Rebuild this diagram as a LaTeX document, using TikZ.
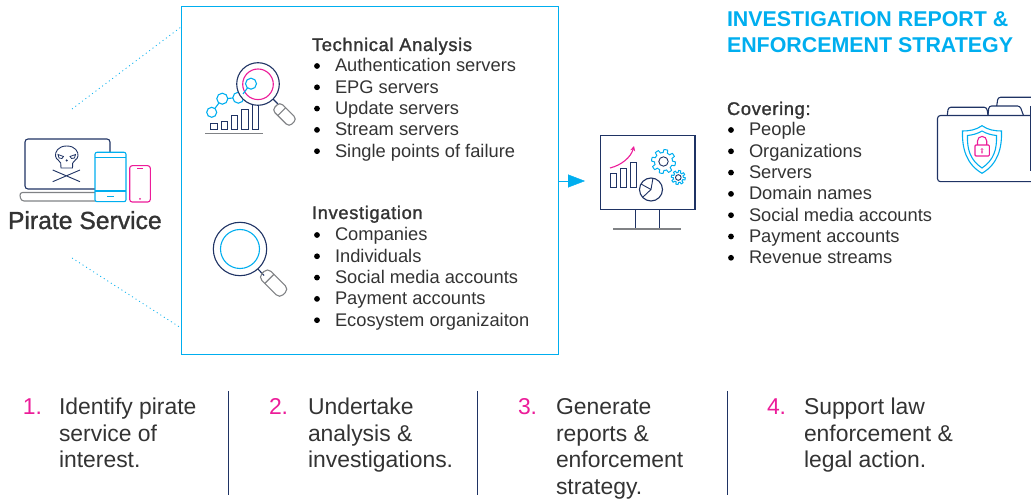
\documentclass[tikz,border=0pt]{standalone}
\usepackage{fontspec}
\setmainfont{Liberation Sans}
\newfontfamily\medfont[FakeBold=1.4,LetterSpace=3.6]{Liberation Sans}
\newfontfamily\piratefont[FakeBold=1.2]{Liberation Sans}
\usetikzlibrary{arrows.meta}
\definecolor{brandblue}{HTML}{00AEEF}
\definecolor{brandnavy}{HTML}{1F3364}
\definecolor{brandpink}{HTML}{EC1C99}
\definecolor{brandgrey}{HTML}{808285}
\definecolor{inktext}{HTML}{333333}
\tikzset{
    plain/.style={inner sep=0pt,outer sep=0pt,anchor=base west,text=inktext},
    item/.style={plain,font=\fontsize{18.3}{22}\selectfont},
    head/.style={plain,font=\medfont\fontsize{18.3}{22}\selectfont},
    title/.style={plain,text=brandblue,font=\bfseries\fontsize{21.4}{26}\selectfont},
    stepnum/.style={plain,text=brandpink,font=\fontsize{22.9}{26.5}\selectfont},
    steptext/.style={plain,font=\fontsize{22.9}{26.5}\selectfont},
    navy/.style={draw=brandnavy,line width=1.1pt},
    cyanline/.style={draw=brandblue,line width=1.1pt},
    pinkline/.style={draw=brandpink,line width=1.1pt},
    greyline/.style={draw=brandgrey,line width=1.1pt},
    dotline/.style={draw=brandblue,line width=0.8pt,dash pattern=on 1pt off 3.2pt},
}
% one bullet list: name, text x, first baseline, items
\newcommand{\bulletlist}[4]{
    \foreach \txt [count=\i from 0] in {#4} {
        \pgfmathsetmacro{\ypos}{#3+21.3*\i}
        \node[item] (#1\i) at (#2,\ypos) {\txt};
        \fill[black] (#2-18,\ypos-6) circle (2.9);
    }
}
% one numbered step: name, number x, text x, number, lines
\newcommand{\steplist}[5]{
    \node[stepnum] (#1num) at (#2,414.5) {#4.};
    \foreach \txt [count=\i from 0] in {#5} {
        \pgfmathsetmacro{\ypos}{414.5+26.6*\i}
        \node[steptext] (#1\i) at (#3,\ypos) {\txt};
    }
}
\begin{document}
\begin{tikzpicture}[x=1pt,y=-1pt]
    \useasboundingbox (0,0) rectangle (1031,502);

    % laptop with skull
    \draw[navy,rounded corners=3pt] (25,189) -- (25,139) -- (110,139) -- (110,189) -- cycle;
    \draw[greyline,rounded corners=3pt] (95,192.5) -- (19.5,192.5) -- (21,201) -- (95,201);
    \draw[navy,line width=0.9pt] (66.7,146) .. controls (58,146) and (55,152) .. (55.5,156) .. controls (56,160) and (60,160) .. (60.7,163) -- (61,168) -- (72.5,168) -- (72.7,163) .. controls (73.5,160) and (77.5,160) .. (78,156) .. controls (78.5,152) and (75.5,146) .. (66.7,146) -- cycle;
    \draw[navy,line width=0.8pt] (58,154.5) -- (63.5,156.5) -- (62,158.5) -- (59,158) -- cycle (75.5,154.5) -- (70,156.5) -- (71.5,158.5) -- (74.5,158) -- cycle;
    \fill[brandnavy] (66.7,160.5) circle (1.2);
    \draw[navy,line width=0.9pt] (52.7,170) -- (80,181.7) (52.7,181.7) -- (80,170);
    \draw[cyanline,fill=white,rounded corners=2pt] (95,152.3) rectangle (126,201.7);
    \draw[cyanline] (95,157.3) -- (126,157.3) (95,191) -- (126,191) (107.3,196.3) -- (114,196.3);
    \draw[pinkline,rounded corners=2.5pt] (129.7,165.7) rectangle (150.3,202);
    \draw[pinkline] (137.3,168.3) -- (142.7,168.3);
    \fill[brandpink] (140,199) circle (1);
    \node[plain,font=\piratefont\fontsize{24.7}{28}\selectfont] (pirate) at (8,229) {Pirate Service};

    % analysis box and connectors
    \node[draw=brandblue,line width=1pt,inner sep=0pt,minimum width=377pt,minimum height=348pt] (analysis) at (369.5,181) {};
    \coordinate (pirateup) at (72,109);
    \coordinate (piratedown) at (72,258);
    \coordinate (boxup) at (181,27);
    \coordinate (boxdown) at (181,328);
    \coordinate (arrowend) at (585,181);
    \draw[dotline] (pirateup) -- (boxup);
    \draw[dotline] (piratedown) -- (boxdown);
    \draw[brandblue,-{Triangle[length=17pt,width=13pt]}] (analysis.east |- arrowend) -- (arrowend);

    % chart with magnifier
    \draw[greyline] (205.3,133.3) -- (262.7,133.3);
    \foreach \xa/\ya in {210.7/124,221.3/121.3,231.3/115.3,241.7/109.3,252/100} {
        \draw[navy,line width=1pt] (\xa,130) rectangle (\xa+6.3,\ya);
    }
    \draw[cyanline] (211.7,112.3) circle (5) (222.3,98.7) circle (5.5) (238.3,97.7) circle (5.5);
    \draw[cyanline] (215,108.3) -- (219,103) (227.8,98.5) -- (232.8,98);
    \draw[navy] (273,99) -- (278,104);
    \begin{scope}[shift={(276,106)},rotate=-45]
        \draw[greyline,rounded corners=4pt] (0,-5.5) -- (24,-5.5) -- (24,5.5) -- (0,5.5) -- cycle;
        \draw[greyline] (8,-5.5) -- (8,5.5);
    \end{scope}
    \draw[navy,fill=white] (258,84) circle (21.3);
    \draw[pinkline] (258,84.3) circle (15.3);
    \draw[cyanline] (251,83.7) circle (5.5);
    \draw[cyanline] (243,94) -- (247.5,88);

    % plain magnifier
    \draw[navy] (257,268) -- (264,275.5);
    \begin{scope}[shift={(263,272.5)},rotate=-45]
        \draw[greyline,rounded corners=5pt] (0,-6.5) -- (30,-6.5) -- (30,6.5) -- (0,6.5) -- cycle;
        \draw[greyline] (9,-6.5) -- (9,6.5);
    \end{scope}
    \draw[navy,fill=white] (240,249) circle (26.7);
    \draw[cyanline] (240,249) circle (19.5);

    % lists in the box
    \node[head] (techhead) at (312,51) {Technical Analysis};
    \bulletlist{tech}{335}{72}{Authentication servers,EPG servers,Update servers,Stream servers,Single points of failure}
    \node[head] (invhead) at (312,219) {Investigation};
    \bulletlist{inv}{335}{241}{Companies,Individuals,Social media accounts,Payment accounts,Ecosystem organizaiton}

    % monitor
    \node[draw=brandnavy,line width=1.2pt,inner sep=0pt,minimum width=94.5pt,minimum height=74pt] (monitor) at (647.7,172.5) {};
    \draw[navy] (635.5,209.5) rectangle (659.5,229);
    \draw[greyline] (613,229) -- (681,229);
    \foreach \xa/\ya in {610/174,620/169,630/163} {
        \draw[navy,line width=1pt] (\xa,188) rectangle (\xa+6,\ya);
    }
    \draw[pinkline,-{Stealth[length=5pt,width=5pt]}] (610,168) .. controls (622,165) and (631,157) .. (634,146);
    \draw[navy] (651,189.5) circle (11.5);
    \draw[navy,line width=0.9pt] (641,184) -- (651,189.5) -- (653,178) (651,189.5) -- (643,197);
    \draw[cyanline,line width=1pt] plot[domain=0:360,samples=145] ({663.5+(10.5+1.5*sign(sin(8*\x)))*cos(\x)},{161.5+(10.5+1.5*sign(sin(8*\x)))*sin(\x)}) -- cycle;
    \draw[navy,line width=0.9pt] (663.5,161.5) circle (4.7);
    \draw[cyanline,line width=1pt] plot[domain=0:360,samples=145] ({678.3+(6+1*sign(sin(8*\x)))*cos(\x)},{177.5+(6+1*sign(sin(8*\x)))*sin(\x)}) -- cycle;
    \draw[navy,line width=0.9pt] (678.3,177.5) circle (2.8);

    % report text
    \node[title] (titleone) at (727,27) {INVESTIGATION REPORT \&};
    \node[title] (titletwo) at (727,52.5) {ENFORCEMENT STRATEGY};
    \node[head] (coverhead) at (727,115) {Covering:};
    \bulletlist{cover}{749}{136}{People,Organizations,Servers,Domain names,Social media accounts,Payment accounts,Revenue streams}

    % folder
    \draw[navy,rounded corners=2.5pt] (996.7,106) -- (998,97.3) -- (1035,97.3);
    \draw[navy,rounded corners=2.5pt] (947.3,115) -- (948.3,107.3) -- (986.7,107.3) -- (988,115);
    \draw[navy,rounded corners=2.5pt] (988,115) -- (989,106) -- (1020,106) -- (1023.3,115);
    \draw[navy,rounded corners=3pt] (1035,115.5) -- (937.5,115.5) -- (937.5,181.7) -- (1035,181.7);
    \draw[navy] (1030.5,106) -- (1030.5,171);
    \draw[cyanline] (982,125.7) .. controls (976,130) and (969,131) .. (962.5,131) .. controls (962,148) and (966,164) .. (982,173.3) .. controls (998,164) and (1002,148) .. (1001.5,131) .. controls (995,131) and (988,130) .. (982,125.7) -- cycle;
    \draw[cyanline] (982,131) .. controls (977,134) and (972,135) .. (967.5,135.5) .. controls (967,149) and (970,160) .. (982,168) .. controls (994,160) and (997,149) .. (996.5,135.5) .. controls (992,135) and (987,134) .. (982,131) -- cycle;
    \draw[pinkline,rounded corners=1pt] (975,145) rectangle (989.3,156);
    \draw[pinkline] (977.5,145) -- (977.5,141) arc[start angle=180,end angle=360,radius=4.6] -- (986.7,145);
    \fill[brandpink] (982,149.5) circle (1.4) (981.3,149.5) rectangle (982.7,153.5);

    % bottom steps
    \steplist{stepone}{23}{59}{1}{Identify pirate,service of,interest.}
    \steplist{steptwo}{269}{308}{2}{Undertake,analysis \&,investigations.}
    \steplist{stepthree}{518}{556}{3}{Generate,reports \&,enforcement,strategy.}
    \steplist{stepfour}{767}{804}{4}{Support law,enforcement \&,legal action.}
    \foreach \xa in {228,477.5,727} {
        \draw[brandnavy,line width=1pt] (\xa,391) -- (\xa,495);
    }
\end{tikzpicture}
\end{document}
